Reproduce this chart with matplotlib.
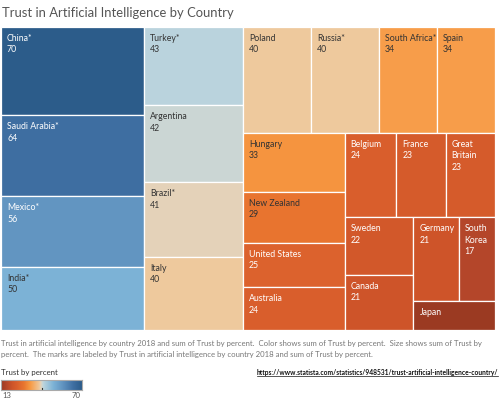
import matplotlib
matplotlib.use("Agg")
import matplotlib.pyplot as plt
from matplotlib.colors import LinearSegmentedColormap, Normalize
from matplotlib.patches import Rectangle
import numpy as np

plt.rcParams['font.family'] = ['Lato', 'DejaVu Sans']

countries = ["China*", "Saudi Arabia*", "Mexico*", "India*",
             "Turkey*", "Argentina", "Brazil*", "Italy",
             "Poland", "Russia*", "South Africa*", "Spain",
             "Hungary", "New Zealand", "United States", "Australia",
             "Belgium", "France", "Great\nBritain",
             "Sweden", "Canada",
             "Germany", "South\nKorea",
             "Japan"]
values = [70, 64, 56, 50,
          43, 42, 41, 40,
          40, 40, 34, 34,
          33, 29, 25, 24,
          24, 23, 23,
          22, 21,
          21, 17,
          13]
show_value = [True] * 23 + [False]
# number of items per strip of the treemap (Tableau-style grouping)
strip_sizes = [4, 4, 4, 4, 3, 2, 2, 1]

# colour scale stops (value, colour)
color_stops = [(13, "#9b3a22"), (17, "#b5472a"), (21, "#cf5529"), (24, "#d95e2c"),
               (29, "#e8752f"), (33, "#f5953f"), (34, "#f79d4a"), (40, "#efc89b"),
               (41, "#e3d3bb"), (42, "#ccd6d3"), (43, "#b9d3dd"), (50, "#7cb2d6"),
               (56, "#6396c2"), (64, "#3f6fa2"), (70, "#2c5c8a")]
vmin, vmax = 13, 70
cmap = LinearSegmentedColormap.from_list(
    "ob", [((v - vmin) / (vmax - vmin), c) for v, c in color_stops])
norm = Normalize(vmin, vmax)

W, H = 494, 303
fig = plt.figure(figsize=(5, 4), dpi=100)
ax = fig.add_axes([1 / 500, 1 - 330 / 400, W / 500, H / 400])
ax.set_xlim(0, W)
ax.set_ylim(H, 0)
ax.axis("off")

total = sum(values)
scale = W * H / total
x0, y0, w, h = 0.0, 0.0, float(W), float(H)
idx = 0
rects = []
for n in strip_sizes:
    group = values[idx:idx + n]
    area = sum(group) * scale
    if w >= h:
        sw = area / h
        yy = y0
        for v in group:
            ch = v * scale / sw
            rects.append((x0, yy, sw, ch))
            yy += ch
        x0 += sw
        w -= sw
    else:
        sh = area / w
        xx = x0
        for v in group:
            cw = v * scale / sh
            rects.append((xx, y0, cw, sh))
            xx += cw
        y0 += sh
        h -= sh
    idx += n

for (x, y, rw, rh), name, v, sv in zip(rects, countries, values, show_value):
    ax.add_patch(Rectangle((x, y), rw, rh, facecolor=cmap(norm(v)),
                           edgecolor="white", linewidth=0.9))
    tc = "white" if (v >= 56 or v <= 25) else "#333333"
    label = f"{name}\n{v}" if sv else name
    ax.text(x + 6, y + 7, label, ha="left", va="top", fontsize=6.3,
            color=tc, linespacing=1.35)

fig.text(2 / 500, 1 - 13 / 400, "Trust in Artificial Intelligence by Country",
         fontsize=9.4, color="#555555", ha="left", va="center")

fig.text(1 / 500, 1 - 340 / 400,
         "Trust in artificial intelligence by country 2018 and sum of Trust by percent.  "
         "Color shows sum of Trust by percent.  Size shows sum of Trust by\n"
         "percent.  The marks are labeled by Trust in artificial intelligence by country "
         "2018 and sum of Trust by percent.",
         fontsize=5.55, color="#777777", ha="left", va="top", linespacing=1.65)

fig.text(1 / 500, 1 - 373 / 400, "Trust by percent", fontsize=5.7,
         color="#333333", ha="left", va="center")
cax = fig.add_axes([1 / 500, 1 - 390 / 400, 81 / 500, 10 / 400])
grad = np.linspace(vmin, vmax, 256).reshape(1, -1)
cax.imshow(grad, aspect="auto", cmap=cmap, norm=norm,
           extent=[vmin, vmax, 0, 1])
cax.set_xticks([])
cax.set_yticks([])
for s in cax.spines.values():
    s.set_color("#aaaaaa")
    s.set_linewidth(0.8)
cax.plot([41.5, 41.5], [0, 0.2], color="#333333", linewidth=0.8)
fig.text(2 / 500, 1 - 395 / 400, "13", fontsize=5.6, color="#555555",
         ha="left", va="center")
fig.text(81 / 500, 1 - 395 / 400, "70", fontsize=5.6, color="#555555",
         ha="right", va="center")

url = fig.text(498 / 500, 1 - 373 / 400,
               "https://www.statista.com/statistics/948531/trust-artificial-intelligence-country/",
               fontsize=4.8, color="#111111", ha="right", va="center",
               fontweight="bold")
fig.canvas.draw()
bb = url.get_window_extent().transformed(fig.transFigure.inverted())
fig.add_artist(plt.Line2D([bb.x0, bb.x1], [bb.y0 + 0.002, bb.y0 + 0.002],
                          transform=fig.transFigure, color="#111111", linewidth=0.5))

fig.savefig("out.png", dpi=100, facecolor="white")
